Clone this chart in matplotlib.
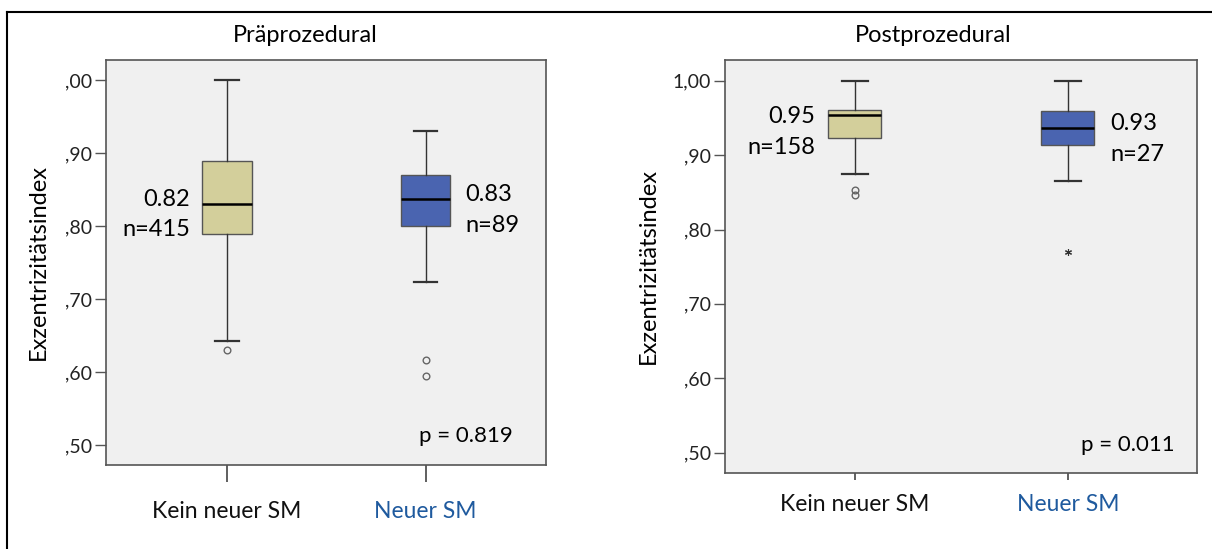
import matplotlib
matplotlib.use("Agg")
import matplotlib.pyplot as plt
from matplotlib.lines import Line2D

plt.rcParams['font.family'] = ['Lato', 'DejaVu Sans']

groups = ["Kein neuer SM", "Neuer SM"]
group_colors = ["#d3cf9b", "#4a64b0"]
label_colors = ["#111111", "#1f5a9e"]

# Präprozedural: whislo, q1, med, q3, whishi, outliers
pre_whislo = [0.643, 0.724]
pre_q1 = [0.789, 0.800]
pre_med = [0.831, 0.837]
pre_q3 = [0.889, 0.870]
pre_whishi = [1.000, 0.931]
pre_fliers = [[0.630], [0.616, 0.594]]
pre_means = ["0.82", "0.83"]
pre_n = ["n=415", "n=89"]
pre_p = "p = 0.819"

# Postprozedural
post_whislo = [0.875, 0.865]
post_q1 = [0.923, 0.913]
post_med = [0.954, 0.937]
post_q3 = [0.961, 0.959]
post_whishi = [1.000, 1.000]
post_fliers = [[0.853, 0.846], []]
post_extremes = [[], [0.770]]
post_means = ["0.95", "0.93"]
post_n = ["n=158", "n=27"]
post_p = "p = 0.011"

yticks = [0.5, 0.6, 0.7, 0.8, 0.9, 1.0]
pre_ticklabels = [",50", ",60", ",70", ",80", ",90", ",00"]
post_ticklabels = [",50", ",60", ",70", ",80", ",90", "1,00"]

fig = plt.figure(figsize=(12.12, 5.49), dpi=100)
W, H = 1212, 549


def px_axes(l, t, r, b):
    return fig.add_axes([l / W, 1 - b / H, (r - l) / W, (b - t) / H])


def panel(ax, whislo, q1, med, q3, whishi, fliers, means, n, p, ticklabels,
          title, title_x, p_pos, xtick_len, xtick_pad, text_shift,
          extremes=None, widths=0.25):
    stats = []
    for i in range(len(groups)):
        stats.append(dict(whislo=whislo[i], q1=q1[i], med=med[i], q3=q3[i],
                          whishi=whishi[i], fliers=fliers[i]))
    bp = ax.bxp(stats, positions=[1, 2], widths=widths, patch_artist=True,
                boxprops=dict(edgecolor="#555555", linewidth=1.0),
                whiskerprops=dict(color="#333333", linewidth=1.0),
                capprops=dict(color="#333333", linewidth=1.6),
                medianprops=dict(color="black", linewidth=1.8),
                flierprops=dict(marker="o", markersize=4.8, markerfacecolor="none",
                                markeredgecolor="#666666", markeredgewidth=1.0))
    for patch, c in zip(bp["boxes"], group_colors):
        patch.set_facecolor(c)
    for cap in bp["caps"]:
        xd = cap.get_xdata()
        m = (xd[0] + xd[1]) / 2
        cap.set_xdata([m - widths * 0.24, m + widths * 0.24])
    if extremes:
        for i, ex in enumerate(extremes):
            if ex:
                ax.plot([i + 1] * len(ex), ex, marker=(6, 2, 0), markersize=5,
                        color="#333333", linestyle="none", markeredgewidth=0.8)

    ax.set_facecolor("#f0f0f0")
    ax.set_xlim(0.39, 2.607)
    ax.set_ylim(0.4725, 1.028)
    ax.set_yticks(yticks)
    ax.set_yticklabels(ticklabels, fontsize=14, color="#222222")
    ax.set_xticks([1, 2])
    ax.set_xticklabels(groups, fontsize=16.5)
    for lbl, c in zip(ax.get_xticklabels(), label_colors):
        lbl.set_color(c)
    ax.tick_params(axis="x", length=xtick_len, width=1.2, color="#444444", pad=xtick_pad)
    ax.tick_params(axis="y", length=8, width=1.0, color="#555555", pad=2)
    for s in ax.spines.values():
        s.set_color("#555555")
        s.set_linewidth(1.2)
    ax.set_ylabel("Exzentrizitätsindex", fontsize=17)

    # mean / n labels beside the boxes
    offs = [-0.185, 0.2]
    for i in range(len(groups)):
        x = i + 1 + offs[i]
        ha = "right" if offs[i] < 0 else "left"
        ym = med[i] + text_shift[i]
        ax.text(x, ym + 0.006, means[i], ha=ha, va="center", fontsize=17)
        ax.text(x, ym - 0.036, n[i], ha=ha, va="center", fontsize=17)
    ax.text(p_pos[0], p_pos[1], p, ha="right", va="center", fontsize=16)
    fig.text(title_x / W, 1 - 35 / H, title, ha="center", va="center", fontsize=17)


ax1 = px_axes(106, 60, 546, 465)
panel(ax1, pre_whislo, pre_q1, pre_med, pre_q3, pre_whishi, pre_fliers,
      pre_means, pre_n, pre_p, pre_ticklabels, "Präprozedural", 305,
      p_pos=(2.44, 0.512), xtick_len=12, xtick_pad=14, text_shift=[0, 0])
ax1.yaxis.set_label_coords(-0.13, 0.5)

ax2 = px_axes(725, 60, 1197, 473)
panel(ax2, post_whislo, post_q1, post_med, post_q3, post_whishi, post_fliers,
      post_means, post_n, post_p, post_ticklabels, "Postprozedural", 933,
      p_pos=(2.50, 0.5095), xtick_len=5, xtick_pad=10, text_shift=[-0.008, 0],
      extremes=post_extremes)
ax2.yaxis.set_label_coords(-0.14, 0.5)

# outer frame lines
fig.add_artist(Line2D([7 / W, 1], [1 - 12 / H, 1 - 12 / H], color="black", linewidth=1.5))
fig.add_artist(Line2D([7 / W, 7 / W], [0, 1 - 12 / H], color="black", linewidth=1.5))

fig.savefig("out.png", dpi=100, facecolor="white")
